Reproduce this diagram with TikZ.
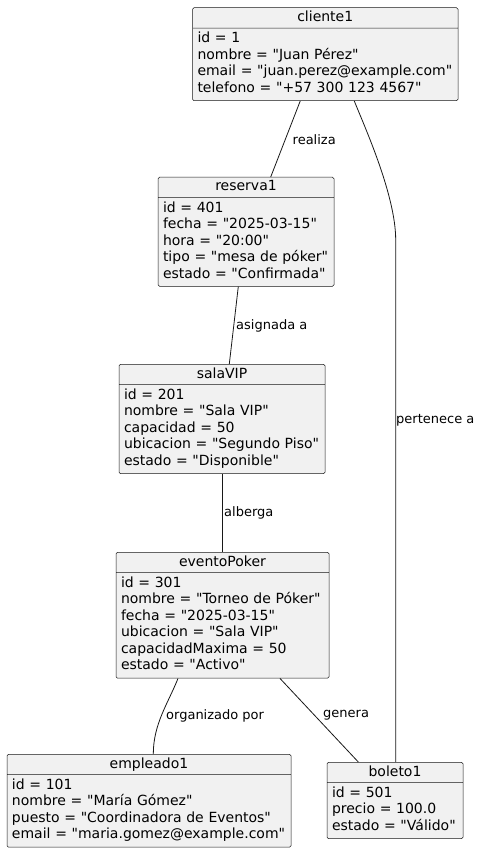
\documentclass[tikz,border=0pt]{standalone}
\usepackage{fontspec}
\setmainfont{DejaVu Sans}[Ligatures=TeXOff]
\usetikzlibrary{shapes.multipart}

\definecolor{boxfill}{HTML}{F1F1F1}
\definecolor{boxline}{HTML}{181818}

\newcommand\objtitle[1]{\noindent\hbox to\hsize{\hfil\rule[-3.3pt]{0pt}{11.2pt}#1\hfil}}

\tikzset{
    object/.style={
        rectangle split, rectangle split parts=2,
        draw=boxline, line width=0.5pt, fill=boxfill,
        rounded corners=1.5pt, anchor=north,
        inner xsep=5pt, inner ysep=3pt, align=left,
        font=\fontsize{14}{16.5}\selectfont
    },
    link/.style={draw=boxline, line width=0.8pt},
    linklabel/.style={anchor=west, inner sep=0pt,
        font=\fontsize{13}{15}\selectfont}
}

\begin{document}
\begin{tikzpicture}[x=1pt,y=-1pt]
    \useasboundingbox (0,0) rectangle (481,853);

    \node [object, text width=255.5] (cliente1) at (325.25,7.5)
        {\objtitle{cliente1}
         \nodepart{two}
         \strut id = 1\\
         nombre = "Juan Pérez"\\
         email = "juan.perez@example.com"\\
         telefono = "+57 300 123 4567"\strut};

    \node [object, text width=166] (reserva1) at (246,177)
        {\objtitle{reserva1}
         \nodepart{two}
         \strut id = 401\\
         fecha = "2025-03-15"\\
         hora = "20:00"\\
         tipo = "mesa de póker"\\
         estado = "Confirmada"\strut};

    \node [object, text width=196] (salaVIP) at (222,364)
        {\objtitle{salaVIP}
         \nodepart{two}
         \strut id = 201\\
         nombre = "Sala VIP"\\
         capacidad = 50\\
         ubicacion = "Segundo Piso"\\
         estado = "Disponible"\strut};

    \node [object, text width=203] (eventoPoker) at (222.5,552)
        {\objtitle{eventoPoker}
         \nodepart{two}
         \strut id = 301\\
         nombre = "Torneo de Póker"\\
         fecha = "2025-03-15"\\
         ubicacion = "Sala VIP"\\
         capacidadMaxima = 50\\
         estado = "Activo"\strut};

    \node [object, text width=274] (empleado1) at (149,754)
        {\objtitle{empleado1}
         \nodepart{two}
         \strut id = 101\\
         nombre = "María Gómez"\\
         puesto = "Coordinadora de Eventos"\\
         email = "maria.gomez@example.com"\strut};

    \node [object, text width=126] (boleto1) at (395,762)
        {\objtitle{boleto1}
         \nodepart{two}
         \strut id = 501\\
         precio = 100.0\\
         estado = "Válido"\strut};

    % links
    \draw [link]
        ([xshift=-25]cliente1.south)
        --
        ([xshift=24.7]reserva1.north)
        ;
    \coordinate (bend) at ([xshift=0.7pt]boleto1.north |- 0,240);
    \draw [link]
        ([xshift=29]cliente1.south)
        .. controls +(10,25) and +(0,-45) ..
        (bend)
        --
        ([xshift=0.7pt]boleto1.north)
        ;
    \draw [link]
        ([xshift=-7.7]reserva1.south)
        --
        ([xshift=7.3]salaVIP.north)
        ;
    \draw [link]
        (salaVIP.south)
        --
        (salaVIP.south |- eventoPoker.north)
        ;
    \draw [link]
        ([xshift=-44.5]eventoPoker.south)
        .. controls +(-10,25) and +(0,-30) ..
        ([xshift=4.3]empleado1.north)
        ;
    \draw [link]
        ([xshift=57.5]eventoPoker.south)
        --
        ([xshift=-36.7]boleto1.north)
        ;

    % labels
    \node [linklabel] (lrealiza) at (292.5,140) {realiza};
    \node [linklabel] (lpertenece) at (396,420.5) {pertenece a};
    \node [linklabel] (lasignada) at (236,325.5) {asignada a};
    \node [linklabel] (lalberga) at (224,513) {alberga};
    \node [linklabel] (lorganizado) at (166,715.5) {organizado por};
    \node [linklabel] (lgenera) at (323,715.5) {genera};
\end{tikzpicture}
\end{document}
